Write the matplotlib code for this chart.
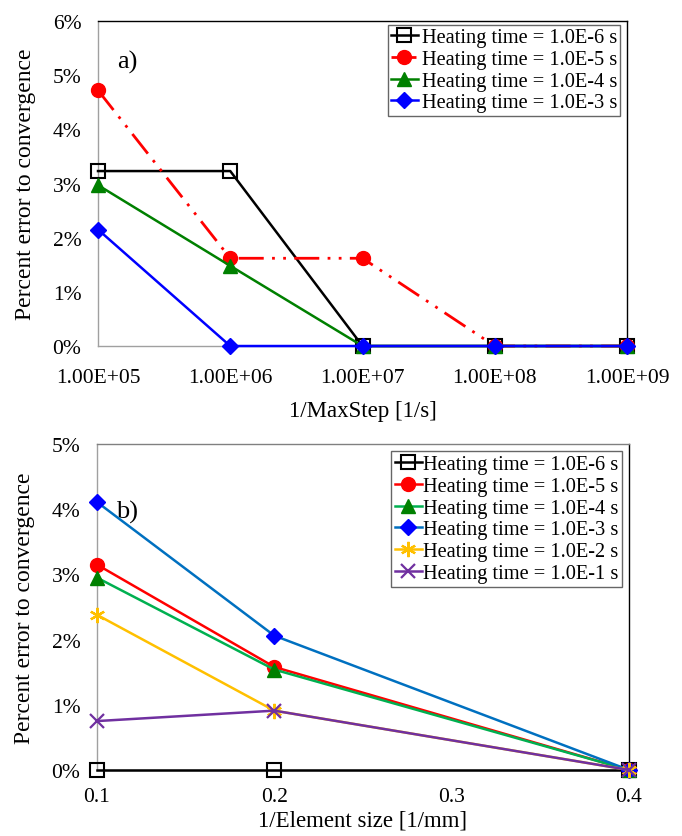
import matplotlib
matplotlib.use('Agg')
import matplotlib.pyplot as plt
from matplotlib.ticker import FuncFormatter

plt.rcParams['font.family'] = ['Liberation Serif', 'DejaVu Serif']
plt.rcParams['font.size'] = 15.5

# --- data, panel a (percent error vs 1/MaxStep)
steps = ['1.00E+05', '1.00E+06', '1.00E+07', '1.00E+08', '1.00E+09']
a_1e6 = [3.23, 3.23, 0.0, 0.0, 0.0]
a_1e5 = [4.72, 1.62, 1.62, 0.0, 0.0]
a_1e4 = [2.97, 1.48, 0.0, 0.0, 0.0]
a_1e3 = [2.15, 0.0, 0.0, 0.0, 0.0]

# --- data, panel b (percent error vs 1/element size)
elem = [0.1, 0.2, 0.4]
b_1e6 = [0.0, 0.0, 0.0]
b_1e5 = [3.15, 1.58, 0.0]
b_1e4 = [2.95, 1.54, 0.0]
b_1e3 = [4.11, 2.06, 0.0]
b_1e2 = [2.38, 0.91, 0.0]
b_1e1 = [0.75, 0.91, 0.0]

labels = ['Heating time = 1.0E-6 s', 'Heating time = 1.0E-5 s', 'Heating time = 1.0E-4 s',
          'Heating time = 1.0E-3 s', 'Heating time = 1.0E-2 s', 'Heating time = 1.0E-1 s']

pct = FuncFormatter(lambda v, _: f'{v:.0f}%')

fig = plt.figure(figsize=(6.82, 8.37), dpi=100)
ax1 = fig.add_axes([0.1437, 0.5854, 0.7757, 0.3883])
ax2 = fig.add_axes([0.1422, 0.0789, 0.7801, 0.3894])

lw = 1.8
xs = list(range(len(steps)))
ax1.plot(xs, a_1e6, color='black', lw=lw, marker='s', ms=10, mfc='none', mec='black', mew=1.5,
         label=labels[0], clip_on=False, zorder=3)
ax1.plot(xs, a_1e5, color='red', lw=2, dashes=(9, 3, 1, 3, 1, 3), marker='o', ms=10,
         label=labels[1], clip_on=False, zorder=4)
ax1.plot(xs, a_1e4, color='green', lw=lw, marker='^', ms=10, label=labels[2], clip_on=False, zorder=5)
ax1.plot(xs, a_1e3, color='blue', lw=lw, marker='D', ms=8, label=labels[3], clip_on=False, zorder=6)

ax1.set_xlim(0, 4)
ax1.set_ylim(0, 6)
ax1.set_xticks(xs)
ax1.set_xticklabels(steps)
ax1.set_yticks(range(0, 7))
ax1.yaxis.set_major_formatter(pct)
ax1.tick_params(axis='x', pad=16)
ax1.set_xlabel('1/MaxStep [1/s]', fontsize=16.5, labelpad=9)
ax1.set_ylabel('Percent error to convergence', fontsize=17, labelpad=12)
ax1.text(0.036, 0.877, 'a)', transform=ax1.transAxes, fontsize=19, va='center')
leg1 = ax1.legend(loc='upper right', bbox_to_anchor=(0.987, 0.988), borderaxespad=0,
                  fontsize=14.7, frameon=True, fancybox=False, handlelength=1.3,
                  handletextpad=0.2, labelspacing=0.12, borderpad=0.15)
leg1.get_frame().set_edgecolor('#404040')
leg1.get_frame().set_linewidth(1.0)

ax2.plot(elem, b_1e6, color='black', lw=lw, marker='s', ms=10, mfc='none', mec='black', mew=1.5,
         label=labels[0], clip_on=False, zorder=3)
ax2.plot(elem, b_1e5, color='red', lw=lw, marker='o', ms=10, label=labels[1], clip_on=False, zorder=4)
ax2.plot(elem, b_1e4, color='#00B050', lw=lw, marker='^', ms=10, mfc='green', mec='green',
         label=labels[2], clip_on=False, zorder=4)
ax2.plot(elem, b_1e3, color='#0070C0', lw=lw, marker='D', ms=8, mfc='blue', mec='blue',
         label=labels[3], clip_on=False, zorder=4)
ax2.plot(elem, b_1e2, color='#FFC000', lw=lw, marker=(6, 2, 0), ms=11, mew=1.6,
         label=labels[4], clip_on=False, zorder=4)
ax2.plot(elem, b_1e1, color='#7030A0', lw=lw, marker='x', ms=10, mew=1.6,
         label=labels[5], clip_on=False, zorder=4)

ax2.set_xlim(0.1, 0.4)
ax2.set_ylim(0, 5)
ax2.set_xticks([0.1, 0.2, 0.3, 0.4])
ax2.set_yticks(range(0, 6))
ax2.yaxis.set_major_formatter(pct)
ax2.tick_params(axis='x', pad=12)
ax2.set_xlabel('1/Element size [1/mm]', fontsize=16.5, labelpad=3)
ax2.set_ylabel('Percent error to convergence', fontsize=17, labelpad=12)
ax2.text(0.036, 0.794, 'b)', transform=ax2.transAxes, fontsize=19, va='center')
leg2 = ax2.legend(loc='upper right', bbox_to_anchor=(0.987, 0.979), borderaxespad=0,
                  fontsize=14.7, frameon=True, fancybox=False, handlelength=1.3,
                  handletextpad=0.05, labelspacing=0.12, borderpad=0.2)
leg2.get_frame().set_edgecolor('#404040')
leg2.get_frame().set_linewidth(1.0)

for ax in (ax1, ax2):
    ax.tick_params(axis='both', length=0)
    ax.tick_params(axis='y', pad=12)
    ax.spines['left'].set_color('#a0a0a0')
    ax.spines['bottom'].set_color('#a0a0a0')
    for s in ax.spines.values():
        s.set_linewidth(1.0)
ax1.spines['top'].set_color('black')
ax1.spines['right'].set_color('black')
ax2.spines['top'].set_color('#808080')
ax2.spines['right'].set_color('black')

fig.savefig('out.png', dpi=100)
